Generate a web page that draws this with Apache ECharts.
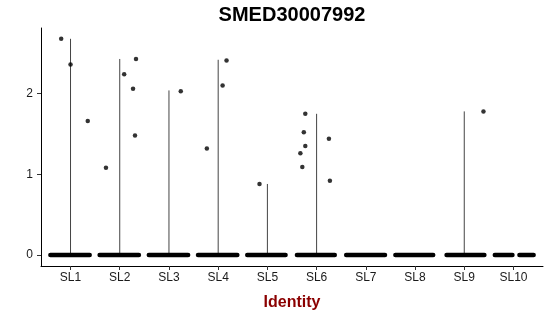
<!DOCTYPE html>
<html>
<head>
<meta charset="utf-8">
<script src="https://cdn.jsdelivr.net/npm/echarts@6/dist/echarts.min.js"></script>
<style>html,body{margin:0;padding:0;background:#fff}#c{width:550px;height:316px}</style>
</head>
<body>
<div id="c"></div>
<script>
// Categories (cluster identities)
const categories = ['SL1','SL2','SL3','SL4','SL5','SL6','SL7','SL8','SL9','SL10'];
// Violin maximum per cluster (0 = violin collapsed at zero)
const violinMax = [2.68, 2.43, 2.04, 2.42, 0.88, 1.75, 0, 0, 1.78, 0];
// Non-zero jittered cells: x position (in category units) and expression value
const pointX = [0.81, 1.00, 1.35, 1.72, 2.09, 2.27, 2.31, 2.33, 3.24, 3.77, 4.09, 4.17, 4.84, 5.77, 5.74, 5.77, 5.67, 5.71, 6.25, 6.27, 9.39];
const pointY = [2.68, 2.36, 1.66, 1.08, 2.24, 2.06, 1.48, 2.43, 2.03, 1.32, 2.10, 2.41, 0.88, 1.75, 1.52, 1.35, 1.26, 1.09, 1.44, 0.92, 1.78];
// Extents of the dense band of zero-valued jittered cells
const zeroLo = [0.55, 1.55, 2.55, 3.55, 4.55, 5.56, 6.56, 7.56, 8.60, 9.58, 10.08];
const zeroHi = [1.43, 2.43, 3.43, 4.43, 5.41, 6.41, 7.43, 8.41, 9.45, 10.02, 10.45];
const yTicks = [0, 1, 2];

const chart = echarts.init(document.getElementById('c'), null, {renderer: 'canvas'});
const violinData = violinMax.map((m, i) => [i + 1, m]);
const zeroData = zeroLo.map((lo, i) => [lo, zeroHi[i]]);
const pointData = pointX.map((x, i) => [x, pointY[i]]);
const font = 'Liberation Sans, Arial, sans-serif';

chart.setOption({
  animation: false,
  title: {
    text: 'SMED30007992',
    left: 292, top: 5, textAlign: 'center', padding: 0,
    textStyle: {fontFamily: font, fontWeight: 'bold', fontSize: 20, color: '#000'}
  },
  grid: {left: 41, right: 7, top: 28, bottom: 45, containLabel: false},
  xAxis: {
    type: 'value', min: 0.4, max: 10.6,
    name: 'Identity', nameLocation: 'middle', nameGap: 29,
    nameTextStyle: {fontFamily: font, fontWeight: 'bold', fontSize: 16, color: '#8B0000'},
    axisLine: {show: true, onZero: false, lineStyle: {color: '#000', width: 1}},
    axisTick: {show: true, length: 4, customValues: categories.map((c, i) => i + 1), lineStyle: {color: '#333'}},
    axisLabel: {customValues: categories.map((c, i) => i + 1), margin: 6,
      formatter: v => categories[Math.round(v) - 1] || '',
      fontFamily: font, fontSize: 12, color: '#1a1a1a'},
    splitLine: {show: false}
  },
  yAxis: {
    type: 'value', min: -0.137, max: 2.814,
    axisLine: {show: true, onZero: false, lineStyle: {color: '#000', width: 1}},
    axisTick: {show: true, length: 4, customValues: yTicks, lineStyle: {color: '#333'}},
    axisLabel: {customValues: yTicks, margin: 8, fontFamily: font, fontSize: 12, color: '#1a1a1a'},
    splitLine: {show: false}
  },
  series: [
    {
      type: 'custom', z: 1, data: violinData,
      renderItem: (params, api) => {
        const x = api.value(0), m = api.value(1);
        if (m <= 0) return null;
        const p0 = api.coord([x, 0]), p1 = api.coord([x, m]);
        return {type: 'line', shape: {x1: p0[0], y1: p0[1], x2: p1[0], y2: p1[1]},
          style: {stroke: '#444', lineWidth: 1}};
      }
    },
    {
      type: 'custom', z: 2, data: zeroData,
      renderItem: (params, api) => {
        const p0 = api.coord([api.value(0), 0]), p1 = api.coord([api.value(1), 0]);
        return {type: 'line', shape: {x1: p0[0] + 2, y1: p0[1], x2: p1[0] - 2, y2: p1[1]},
          style: {stroke: '#000', lineWidth: 4.5, lineCap: 'round'}};
      }
    },
    {
      type: 'scatter', z: 3, data: pointData, symbol: 'circle', symbolSize: 4.5,
      itemStyle: {color: '#000'}
    }
  ]
});
</script>
</body>
</html>
